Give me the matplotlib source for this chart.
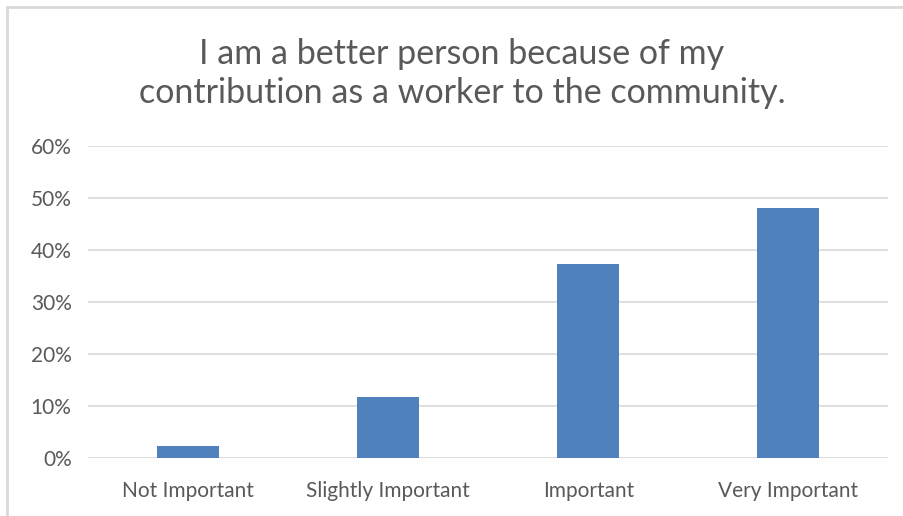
import matplotlib.pyplot as plt
from matplotlib.lines import Line2D
import numpy as np

categories = ['Not Important', 'Slightly Important', 'Important', 'Very Important']
values = [2.4, 11.8, 37.3, 48.0]
y_ticks = [0, 10, 20, 30, 40, 50, 60]
title = 'I am a better person because of my\ncontribution as a worker to the community.'

plt.rcParams['font.family'] = ['Lato', 'DejaVu Sans']
text_color = '#595959'

fig = plt.figure(figsize=(9.04, 5.16), dpi=100)
ax = fig.add_axes([88.3 / 904, 1 - 458.3 / 516, 800 / 904, (458.3 - 145.7) / 516])

x = np.arange(len(categories))
ax.bar(x, values, width=0.31, color='#4F81BD', zorder=3)

ax.set_xlim(-0.5, len(categories) - 0.5)
ax.set_ylim(0, 60)
ax.set_yticks(y_ticks)
ax.set_yticklabels([f'{t}%' for t in y_ticks])
ax.set_xticks(x)
ax.set_xticklabels(categories)
ax.tick_params(axis='both', length=0, labelsize=15, labelcolor=text_color)
ax.tick_params(axis='y', pad=12)
ax.tick_params(axis='x', pad=16)
ax.grid(axis='y', color='#d9d9d9', linewidth=1.2, zorder=0)
for s in ax.spines.values():
    s.set_visible(False)

fig.text(462 / 904, 1 - 73.5 / 516, title, ha='center', va='center',
         fontsize=24.5, color=text_color, linespacing=1.3)

# chart frame, only top and left edges show in the crop
fig.add_artist(Line2D([7 / 904, 1], [1 - 7 / 516, 1 - 7 / 516],
                      transform=fig.transFigure, color='#d9d9d9', linewidth=2))
fig.add_artist(Line2D([7 / 904, 7 / 904], [0, 1 - 7 / 516],
                      transform=fig.transFigure, color='#d9d9d9', linewidth=2))

fig.savefig('out.png', dpi=100)
